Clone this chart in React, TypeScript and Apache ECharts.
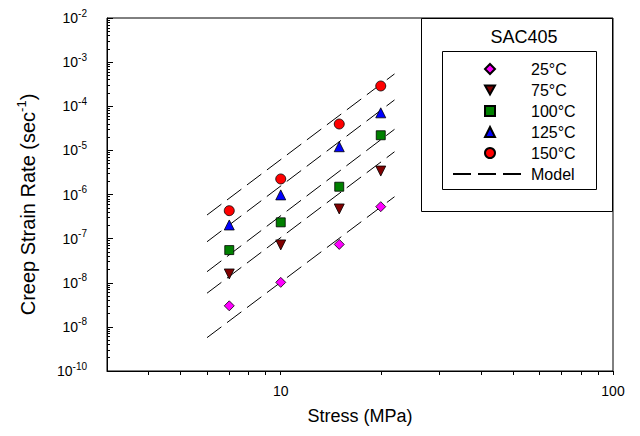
import React, { useEffect, useRef } from 'react';
import * as echarts from 'echarts';

// ---- data ----
const stressMPa = [7, 10, 15, 20];
const rate25C = [3.0e-9, 1.02e-8, 7.4e-8, 5.3e-7];
const rate75C = [1.58e-8, 7.2e-8, 4.7e-7, 3.4e-6];
const rate100C = [5.5e-8, 2.34e-7, 1.5e-6, 2.2e-5];
const rate125C = [2.04e-7, 9.8e-7, 1.21e-5, 7.1e-5];
const rate150C = [4.3e-7, 2.25e-6, 3.96e-5, 2.88e-4];

const modelStress = [6, 22];
const model25C = [5.7e-10, 8.9e-7];
const model75C = [5.8e-9, 9.3e-6];
const model100C = [1.78e-8, 3.0e-5];
const model125C = [8.5e-8, 1.39e-4];
const model150C = [3.43e-7, 5.4e-4];

const seriesNames = ['25°C', '75°C', '100°C', '125°C', '150°C'];
const modelName = 'Model';

// ---- axis ticks / labels ----
const yTickValues = [1e-10, 1e-9, 1e-8, 1e-7, 1e-6, 1e-5, 1e-4, 1e-3, 1e-2];
const yTickExponents = ['-10', '-8', '-8', '-7', '-6', '-5', '-4', '-3', '-2'];
const yMinorMultipliers = [2, 3, 4, 5, 6, 7, 8, 9];
const xLabelValues = [10, 100];
const xTickValues = [4, 5, 6, 7, 8, 9, 10, 20, 30, 40, 50, 60, 70, 80, 90, 100];

const FONT = '"Liberation Sans", Arial, Helvetica, sans-serif';

const pairs = (xs: number[], ys: number[]) => xs.map((x, i) => [x, ys[i]]);

export default function App() {
  const ref = useRef<HTMLDivElement>(null);

  useEffect(() => {
    if (!ref.current) return;
    const chart = echarts.init(ref.current, undefined, { renderer: 'svg' });

    const yMinorTicks: number[] = [];
    yTickValues.slice(0, -1).forEach((d) => {
      yMinorMultipliers.forEach((k) => yMinorTicks.push(k * d));
    });

    const yLabelFormatter = (v: number) => {
      let best = 0;
      let bestDiff = Infinity;
      yTickValues.forEach((t, i) => {
        const diff = Math.abs(Math.log10(t) - Math.log10(v));
        if (diff < bestDiff) {
          bestDiff = diff;
          best = i;
        }
      });
      return '{b|10}{s|' + yTickExponents[best] + '}';
    };

    const lineStyle = { color: '#000', width: 1, type: [18, 7] as any };
    const modelSets = [model25C, model75C, model100C, model125C, model150C];
    const rateSets = [rate25C, rate75C, rate100C, rate125C, rate150C];
    const colors = ['#FF00FF', '#800000', '#008000', '#0000FF', '#FF0000'];
    const symbols = ['diamond', 'triangle', 'rect', 'triangle', 'circle'];
    const legendIcons = ['diamond', 'path://M0,0 L10,0 L5,9 Z', 'rect', 'triangle', 'circle'];
    const rotates = [0, 180, 0, 0, 0];
    const sizes = [10, 10, 9, 10, 10];

    const lineSeries = modelSets.map((m) => ({
      type: 'line',
      name: modelName,
      data: pairs(modelStress, m),
      symbol: 'none',
      showSymbol: false,
      lineStyle,
      itemStyle: { color: '#000', opacity: 0 },
      xAxisIndex: 0,
      yAxisIndex: 0,
      z: 2,
    }));

    const scatterSeries = rateSets.map((r, i) => ({
      type: 'scatter',
      name: seriesNames[i],
      data: pairs(stressMPa, r),
      symbol: symbols[i],
      symbolRotate: rotates[i],
      symbolSize: sizes[i],
      itemStyle: { color: colors[i], borderColor: '#000', borderWidth: 0.8, opacity: 1 },
      xAxisIndex: 0,
      yAxisIndex: 0,
      z: 3,
    }));

    chart.setOption({
      animation: false,
      backgroundColor: '#fff',
      textStyle: { fontFamily: FONT },
      grid: {
        left: 107,
        right: 27,
        top: 18,
        bottom: 65,
        show: true,
        borderColor: '#000',
        borderWidth: 1,
        containLabel: false,
      },
      xAxis: [
        {
          type: 'log',
          logBase: 10,
          min: 3,
          max: 100,
          axisLine: { show: true, lineStyle: { color: '#000', width: 1 } },
          axisTick: {
            show: true,
            inside: false,
            length: 4,
            customValues: xTickValues,
            lineStyle: { color: '#000', width: 1 },
          },
          axisLabel: {
            customValues: xLabelValues,
            fontSize: 14,
            fontFamily: FONT,
            color: '#000',
            margin: 13,
            formatter: (v: number) => String(Math.round(v)),
          },
          splitLine: { show: false },
          minorTick: { show: false },
          name: 'Stress (MPa)',
          nameLocation: 'middle',
          nameGap: 36,
          nameTextStyle: { fontSize: 18, fontFamily: FONT, color: '#000' },
        },
      ],
      yAxis: [
        {
          type: 'log',
          logBase: 10,
          min: 1e-10,
          max: 1e-2,
          position: 'left',
          axisLine: { show: true, lineStyle: { color: '#000', width: 1 } },
          axisTick: {
            show: true,
            inside: true,
            length: 6,
            customValues: yTickValues,
            lineStyle: { color: '#000', width: 1 },
          },
          axisLabel: {
            customValues: yTickValues,
            margin: 20,
            formatter: yLabelFormatter,
            rich: {
              b: { fontSize: 14, fontFamily: FONT, color: '#000', lineHeight: 20 },
              s: { fontSize: 10, fontFamily: FONT, color: '#000', verticalAlign: 'top', lineHeight: 12 },
            },
          },
          splitLine: { show: false },
          minorTick: { show: false },
          name: '{t|Creep Strain Rate (sec}{s|-1}{t|)}',
          nameLocation: 'middle',
          nameGap: 66,
          nameRotate: 90,
          nameTextStyle: {
            padding: [0, 20, 0, 0],
            rich: {
              t: { fontSize: 20, fontFamily: FONT, color: '#000', lineHeight: 26 },
              s: { fontSize: 13, fontFamily: FONT, color: '#000', verticalAlign: 'top', lineHeight: 15 },
            },
          },
        },
        {
          type: 'log',
          logBase: 10,
          min: 1e-10,
          max: 1e-2,
          position: 'left',
          axisLine: { show: false },
          axisTick: {
            show: true,
            inside: true,
            length: 3,
            customValues: yMinorTicks,
            lineStyle: { color: '#000', width: 1 },
          },
          axisLabel: { show: false },
          splitLine: { show: false },
        },
      ],
      legend: [
        {
          orient: 'vertical',
          left: 484,
          top: 61,
          padding: 0,
          itemWidth: 10,
          itemHeight: 10,
          itemGap: 5,
          selectedMode: false,
          data: seriesNames.map((n, i) => ({ name: n, icon: legendIcons[i] })),
          textStyle: { fontSize: 16, fontFamily: FONT, color: '#000', padding: [0, 0, 0, 31] },
        },
        {
          orient: 'vertical',
          left: 452,
          top: 166,
          padding: 0,
          itemWidth: 68,
          itemHeight: 10,
          selectedMode: false,
          data: [modelName],
          textStyle: { fontSize: 16, fontFamily: FONT, color: '#000', padding: [0, 0, 0, 5] },
        },
      ],
      graphic: [
        {
          type: 'rect',
          silent: true,
          shape: { x: 421.5, y: 18.5, width: 191, height: 193 },
          style: { fill: 'none', stroke: '#000', lineWidth: 1 },
          z: 10,
        },
        {
          type: 'rect',
          silent: true,
          shape: { x: 442.5, y: 51.5, width: 154, height: 138 },
          style: { fill: 'none', stroke: '#000', lineWidth: 1 },
          z: 10,
        },
        {
          type: 'text',
          silent: true,
          x: 524,
          y: 37,
          style: {
            text: 'SAC405',
            fontSize: 18,
            fontFamily: FONT,
            fill: '#000',
            align: 'center',
            verticalAlign: 'middle',
          },
          z: 10,
        },
      ],
      series: [...lineSeries, ...scatterSeries],
    });

    return () => chart.dispose();
  }, []);

  return (
    <div
      ref={ref}
      style={{ position: 'absolute', left: 0, top: 0, width: 640, height: 436, background: '#fff' }}
    />
  );
}
